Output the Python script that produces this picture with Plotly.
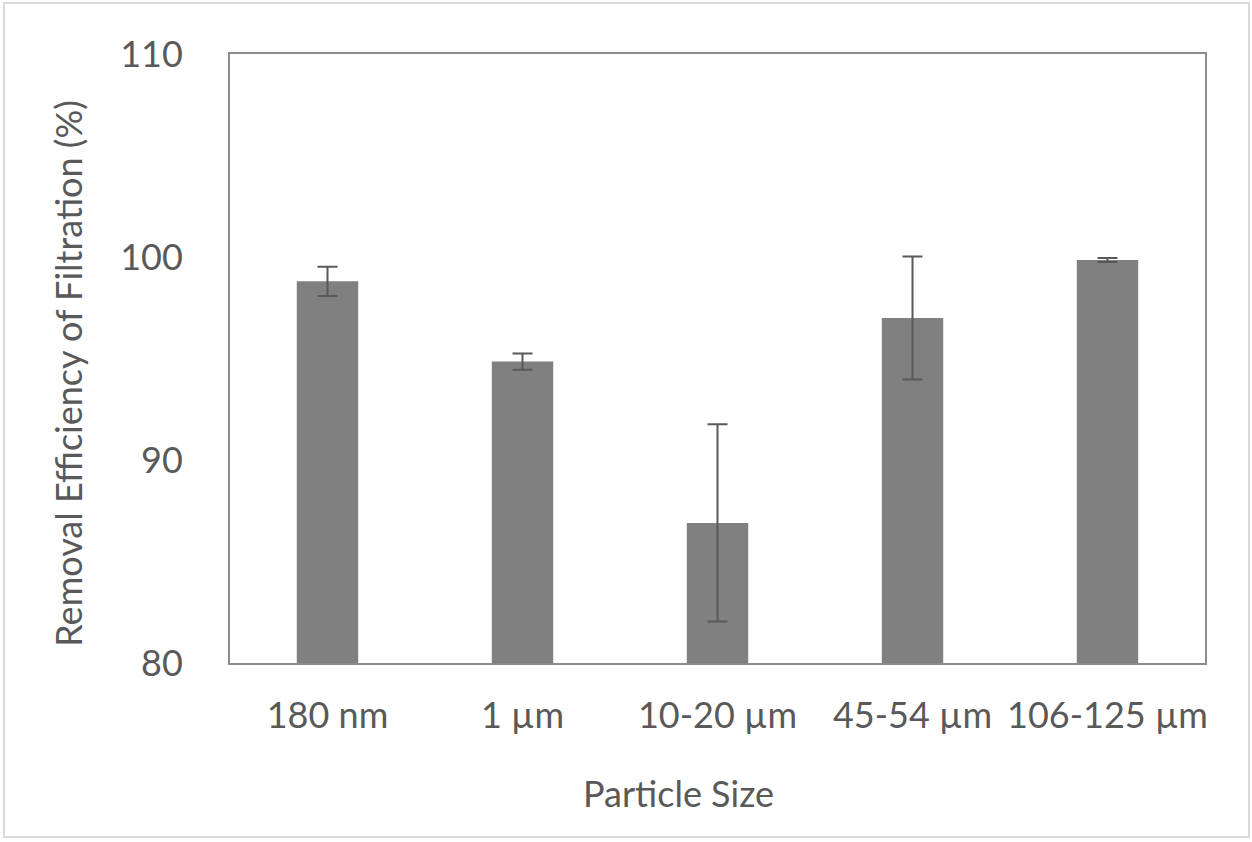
import plotly.graph_objects as go

# datos
sizes = ['180 nm', '1 µm', '10-20 µm', '45-54 µm', '106-125 µm']
efficiency = [98.8, 94.85, 86.9, 97.0, 99.85]
error = [0.72, 0.4, 4.86, 3.03, 0.1]

TEXT = '#595959'
FONT = 'Lato'

fig = go.Figure()

fig.add_trace(go.Bar(
    x=sizes,
    y=efficiency,
    marker=dict(color='#808080', line=dict(width=0)),
    error_y=dict(type='data', array=error, visible=True,
                 color='#595959', thickness=2, width=10),
    width=0.315,
    hovertemplate='%{x}: %{y}%<extra></extra>'
))

fig.update_layout(
    width=1252, height=842,
    margin=dict(l=230, r=47, t=54, b=179),
    paper_bgcolor='white',
    plot_bgcolor='white',
    showlegend=False,
    font=dict(family=FONT, size=36, color=TEXT),
    # marco exterior del gráfico
    shapes=[dict(type='rect', xref='paper', yref='paper',
                 x0=-0.2318, x1=1.0451, y0=-0.2857, y1=1.0837,
                 line=dict(color='#d9d9d9', width=2), layer='below')],
    annotations=[
        dict(text='Removal Efficiency of Filtration (%)', xref='paper', yref='paper',
             x=-0.1662, y=0.4765, xanchor='center', yanchor='middle',
             textangle=-90, showarrow=False,
             font=dict(family=FONT, size=36, color=TEXT)),
        dict(text='Particle Size', xref='paper', yref='paper',
             x=0.4595, y=-0.214, xanchor='center', yanchor='middle',
             showarrow=False,
             font=dict(family=FONT, size=36, color=TEXT)),
    ],
)

fig.update_xaxes(
    showline=True, linecolor='#8c8c8c', linewidth=2, mirror=True,
    ticks='', ticklabelstandoff=20, showgrid=False,
)
fig.update_yaxes(
    range=[80, 110], tickvals=[80, 90, 100, 110],
    showline=True, linecolor='#8c8c8c', linewidth=2, mirror=True,
    ticks='', ticklabelstandoff=38, showgrid=False, zeroline=False,
)

fig.write_html("out.html", config={'displayModeBar': False},
               post_script="document.body.style.margin='0px';")
